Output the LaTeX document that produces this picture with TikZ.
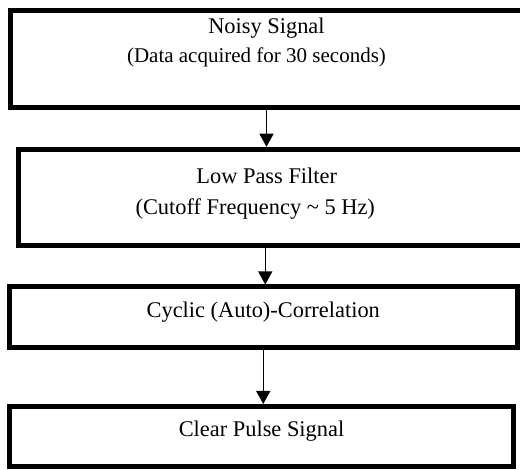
\documentclass[tikz,border=0pt]{standalone}
\usepackage{fontspec}
\setmainfont{Liberation Serif}
\usetikzlibrary{arrows.meta,positioning}

\begin{document}
\begin{tikzpicture}[
  x=1pt, y=1pt,
  font=\fontsize{22.4}{31}\selectfont,
  stage/.style={draw, line width=5pt, inner sep=0pt, minimum height=60.5pt, text height=10pt, text depth=10pt},
  bigstage/.style={draw, line width=5pt, inner sep=0pt, minimum height=96.5pt},
  caption/.style={inner sep=0pt, align=center},
  arrow/.style={-{Triangle[length=13pt,width=14pt]}, line width=1.3pt}
]
\useasboundingbox (0,0) rectangle (520,470);
% y counts up from the bottom edge
\node[bigstage, minimum width=513pt] (noisy) at (266.5,411) {};
\node[caption, font=\fontsize{22.4}{28.5}\selectfont, below=10pt of noisy.north] (noisytxt)
  {Noisy Signal\\{\fontsize{21}{28.5}\selectfont (Data acquired for 30 seconds)}\kern20pt};
\node[bigstage, minimum width=503.5pt] (lowpass) at (270.25,272.5) {};
\node[caption, below=21pt of lowpass.north] (lowpasstxt)
  {Low Pass Filter\kern7pt\\(Cutoff Frequency \textasciitilde{} 5 Hz)\kern30pt};
\node[stage, minimum width=507.5pt] (cyclic) at (263.25,152.75) {Cyclic (Auto)-Correlation};
\node[stage, minimum width=504pt] (pulse) at (261.5,33.25) {Clear Pulse Signal};

\draw[arrow] (noisy.south) -- (noisy.south |- lowpass.north);
\draw[arrow] ([xshift=-5pt]lowpass.south) -- ([xshift=-5pt]lowpass.south |- cyclic.north);
\draw[arrow] (cyclic.south) -- (cyclic.south |- pulse.north);
\end{tikzpicture}
\end{document}
